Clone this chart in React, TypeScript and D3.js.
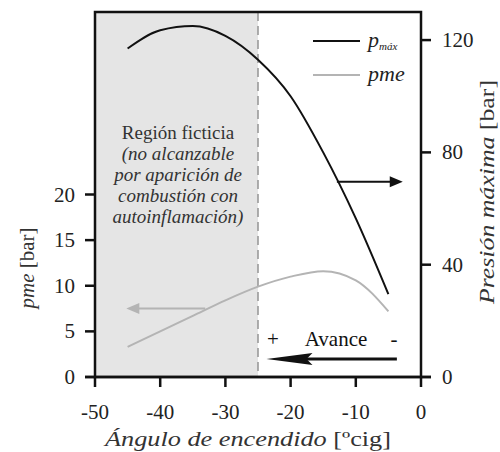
import React from "react";
import * as d3 from "d3";

// Ignition advance sweep [ºcig]
const angles = [-45, -40, -35, -30, -25, -20, -15, -10, -5];
// Maximum cylinder pressure [bar] (right axis)
const pMax = [117, 123.5, 125, 121.5, 113, 100, 80, 56.5, 29.5];
// Brake mean effective pressure [bar] (left axis)
const pme = [3.3, 5.0, 6.7, 8.4, 9.9, 11.0, 11.6, 10.6, 7.2];

const xTicks = [-50, -40, -30, -20, -10, 0];
const leftTicks = [0, 5, 10, 15, 20];
const rightTicks = [0, 40, 80, 120];

// Knock limit: angles earlier than this are not reachable
const knockLimit = -25;

const regionLines = [
  "(no alcanzable",
  "por aparición de",
  "combustión con",
  "autoinflamación)",
];

const W = 500;
const H = 452;
const m = { left: 95, right: 421, top: 12, bottom: 377 };

const FONT =
  '"Liberation Serif", "Times New Roman", Times, Tinos, "Noto Serif", "DejaVu Serif", FreeSerif, "Nimbus Roman", serif';

export default function App() {
  const x = d3.scaleLinear().domain([-50, 0]).range([m.left, m.right]);
  const yL = d3.scaleLinear().domain([0, 40]).range([m.bottom, m.top]);
  const yR = d3.scaleLinear().domain([0, 130]).range([m.bottom, m.top]);

  const pMaxLine = d3
    .line<number>()
    .x((_, i) => x(angles[i]))
    .y((d) => yR(d))
    .curve(d3.curveMonotoneX)(pMax) as string;

  const pmeLine = d3
    .line<number>()
    .x((_, i) => x(angles[i]))
    .y((d) => yL(d))
    .curve(d3.curveMonotoneX)(pme) as string;

  // Arrows pointing each curve to its axis
  const blackArrowY = yR(69.5);
  const blackArrowX0 = x(-12.9);
  const blackArrowX1 = x(-2.8);
  const grayArrowY = yL(7.5);
  const grayArrowX0 = x(-33.1);
  const grayArrowX1 = x(-45.2);

  // "Avance" arrow
  const avY = 359;
  const avX0 = x(-3.7);
  const avX1 = x(-23.7);

  const tickLen = 10;
  const axisW = 2.5;
  const ink = "#111";
  const grayInk = "#b4b4b4";

  return (
    <svg
      width={W}
      height={H}
      style={{ display: "block", position: "absolute", left: 0, top: 0, fontFamily: FONT }}
    >
      <rect x={0} y={0} width={W} height={H} fill="#ffffff" />
      {/* unreachable region */}
      <rect
        x={m.left}
        y={m.top}
        width={x(knockLimit) - m.left}
        height={m.bottom - m.top}
        fill="#e5e5e5"
      />
      <line
        x1={x(knockLimit)}
        x2={x(knockLimit)}
        y1={m.top}
        y2={m.bottom}
        stroke="#9a9a9a"
        strokeWidth={1.6}
        strokeDasharray="9,5"
      />

      {/* region text */}
      <text x={178} y={139} textAnchor="middle" fontSize={19} fill="#333">
        Región ficticia
      </text>
      {regionLines.map((t, i) => (
        <text
          key={t}
          x={178}
          y={160 + i * 21}
          textAnchor="middle"
          fontSize={19}
          fontStyle="italic"
          fill="#333"
        >
          {t}
        </text>
      ))}

      {/* curves */}
      <path d={pmeLine} fill="none" stroke={grayInk} strokeWidth={2} />
      <path d={pMaxLine} fill="none" stroke={ink} strokeWidth={2} />

      {/* black arrow to right axis */}
      <line x1={blackArrowX0} x2={blackArrowX1 - 10} y1={blackArrowY} y2={blackArrowY} stroke={ink} strokeWidth={2} />
      <path
        d={`M${blackArrowX1},${blackArrowY} L${blackArrowX1 - 13},${blackArrowY - 5.5} L${blackArrowX1 - 13},${blackArrowY + 5.5} Z`}
        fill={ink}
      />
      {/* gray arrow to left axis */}
      <line x1={grayArrowX0} x2={grayArrowX1 + 10} y1={grayArrowY} y2={grayArrowY} stroke={grayInk} strokeWidth={2} />
      <path
        d={`M${grayArrowX1},${grayArrowY} L${grayArrowX1 + 13},${grayArrowY - 5.5} L${grayArrowX1 + 13},${grayArrowY + 5.5} Z`}
        fill={grayInk}
      />

      {/* Avance */}
      <text x={273} y={346} textAnchor="middle" fontSize={21} fill={ink}>+</text>
      <text x={336} y={346} textAnchor="middle" fontSize={21} fill={ink}>Avance</text>
      <text x={394} y={346} textAnchor="middle" fontSize={21} fill={ink}>-</text>
      <line x1={avX0} x2={avX1 + 30} y1={avY} y2={avY} stroke={ink} strokeWidth={3} />
      <path
        d={`M${avX1},${avY} L${avX1 + 46},${avY - 6} L${avX1 + 40},${avY} L${avX1 + 46},${avY + 6} Z`}
        fill={ink}
      />

      {/* legend */}
      <line x1={313} x2={360} y1={41} y2={41} stroke={ink} strokeWidth={2.2} />
      <text x={368} y={47} fontSize={22} fontStyle="italic" fill="#222">
        p
        <tspan fontSize={11} dy={3}>máx</tspan>
      </text>
      <line x1={313} x2={360} y1={75} y2={75} stroke={grayInk} strokeWidth={2} />
      <text x={368} y={81} fontSize={22} fontStyle="italic" fill="#222">
        pme
      </text>

      {/* frame */}
      <rect
        x={m.left}
        y={m.top}
        width={m.right - m.left}
        height={m.bottom - m.top}
        fill="none"
        stroke={ink}
        strokeWidth={axisW}
      />

      {/* bottom axis */}
      {xTicks.map((t) => (
        <g key={`x${t}`}>
          <line x1={x(t)} x2={x(t)} y1={m.bottom} y2={m.bottom + tickLen} stroke={ink} strokeWidth={2.5} />
          <text x={x(t)} y={419} textAnchor="middle" fontSize={21} fill="#222">
            {t}
          </text>
        </g>
      ))}
      <line x1={m.left - tickLen} x2={m.right + tickLen} y1={m.bottom} y2={m.bottom} stroke={ink} strokeWidth={axisW} />

      {/* left axis */}
      {leftTicks.map((t) => (
        <g key={`l${t}`}>
          <line x1={m.left - tickLen} x2={m.left} y1={yL(t)} y2={yL(t)} stroke={ink} strokeWidth={2.5} />
          <text x={75} y={yL(t) + 7} textAnchor="end" fontSize={21} fill="#222">
            {t}
          </text>
        </g>
      ))}

      {/* right axis */}
      {rightTicks.map((t) => (
        <g key={`r${t}`}>
          <line x1={m.right} x2={m.right + tickLen} y1={yR(t)} y2={yR(t)} stroke={ink} strokeWidth={2.5} />
          <text x={m.right + 21} y={yR(t) + 7} textAnchor="start" fontSize={21} fill="#222">
            {t}
          </text>
        </g>
      ))}

      {/* axis titles */}
      <text
        x={248}
        y={446}
        textAnchor="middle"
        fontSize={21}
        fill="#333"
        textLength={286}
        lengthAdjust="spacingAndGlyphs"
      >
        <tspan fontStyle="italic">Ángulo de encendido</tspan> [ºcig]
      </text>
      <text
        transform={`translate(34, 268) rotate(-90)`}
        textAnchor="middle"
        fontSize={21}
        fill="#333"
      >
        <tspan fontStyle="italic">pme</tspan> [bar]
      </text>
      <text
        transform={`translate(494, 192) rotate(-90)`}
        textAnchor="middle"
        fontSize={21}
        fill="#333"
        textLength={224}
        lengthAdjust="spacingAndGlyphs"
      >
        <tspan fontStyle="italic">Presión máxima</tspan> [bar]
      </text>
    </svg>
  );
}
